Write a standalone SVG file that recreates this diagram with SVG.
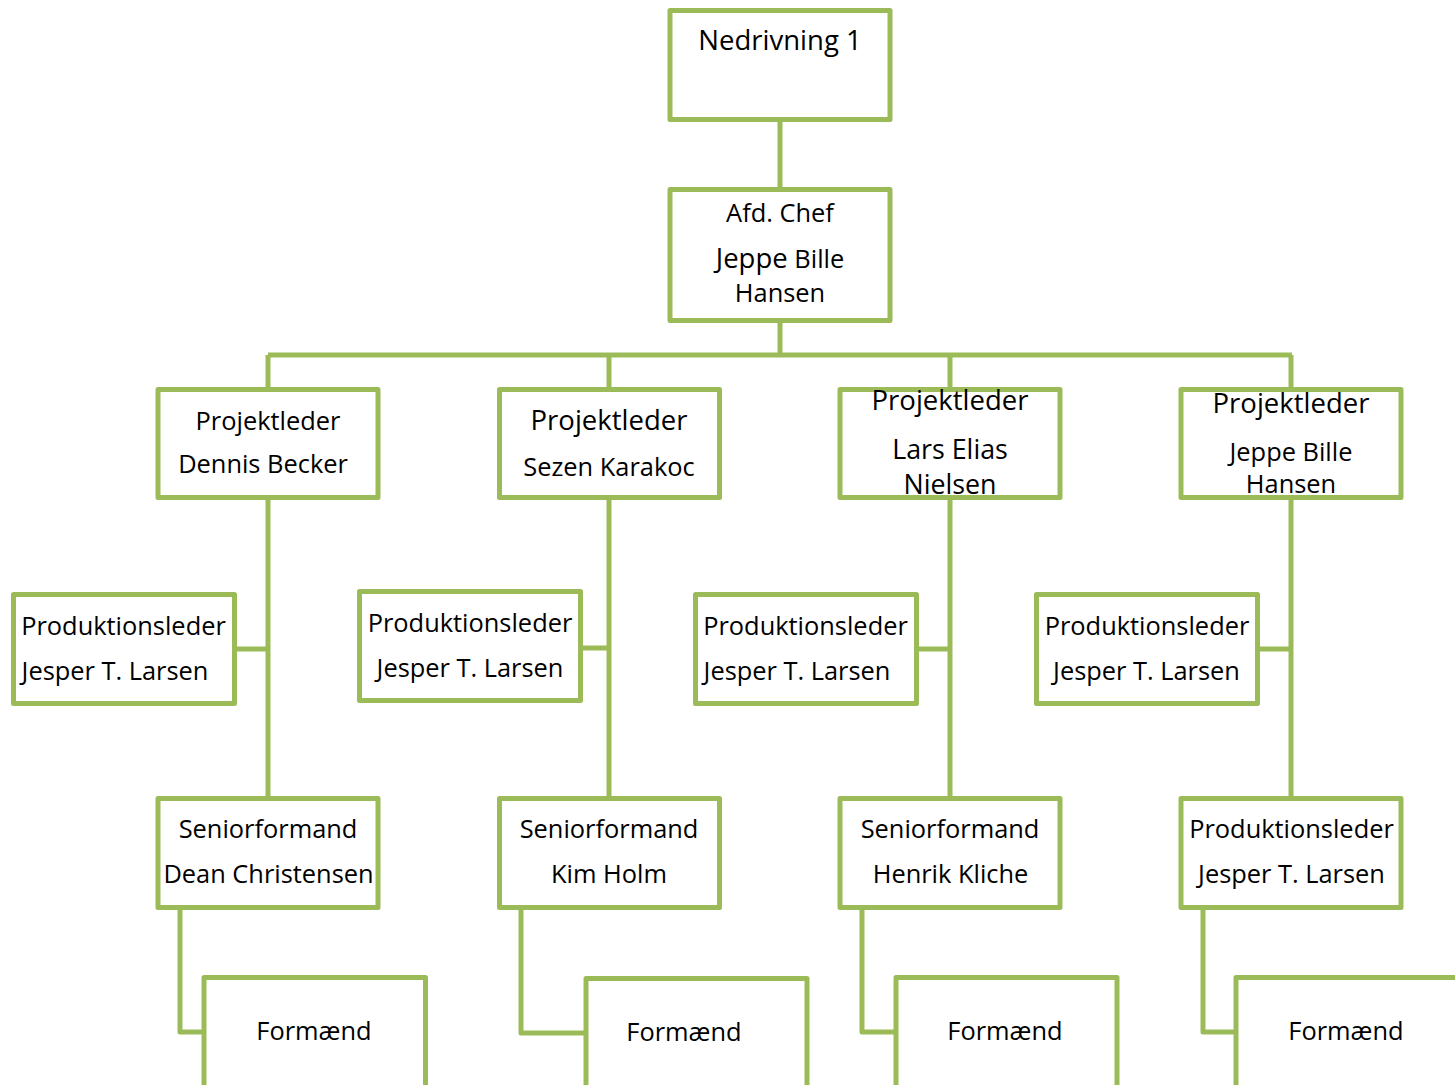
<svg xmlns="http://www.w3.org/2000/svg" width="1455" height="1085" viewBox="0 0 1455 1085">
<style>
.box{fill:#fff;stroke:#9BBB59;stroke-width:5;stroke-linejoin:round}
.con{fill:none;stroke:#9BBB59;stroke-width:5;stroke-linejoin:round}
text{font-family:"Open Sans","Noto Sans","Liberation Sans",sans-serif;font-size:25.4px;fill:#000;text-anchor:middle}
.lg{font-size:27.5px}
.md{font-size:26.8px}
</style>
<rect width="1455" height="1085" fill="#fff"/>
<g id="connectors">
<path class="con" d="M780,121V189M780,321V355M268,355H1292M268,355V389M609,355V389M950,355V389M1291,355V389"/>
<path class="con" d="M268,498V798M609,498V798M950,498V798M1291,498V798"/>
<path class="con" d="M234,649H268M580,648H609M917,649H950M1258,649H1291"/>
<path class="con" d="M180,908V1032H204M521,908V1033H586M862,908V1032H896M1203,908V1032H1236"/>
</g>
<g id="n-top"><rect class="box" x="670" y="10.5" width="220" height="109"/><text class="lg" x="780" y="50">Nedrivning 1</text></g>
<g id="n-afd"><rect class="box" x="670" y="189.5" width="220" height="131"/><text x="780" y="222">Afd. Chef</text><text x="780" y="268"><tspan class="lg">Jeppe</tspan> Bille</text><text x="780" y="302">Hansen</text></g>
<g id="n-pl1"><rect class="box" x="158" y="389.5" width="220" height="108"/><text x="268" y="430">Projektleder</text><text x="263" y="473">Dennis Becker</text></g>
<g id="n-pl2"><rect class="box" x="499.5" y="389.5" width="220" height="108"/><text class="lg" x="609" y="430">Projektleder</text><text x="609" y="476">Sezen Karakoc</text></g>
<g id="n-pl3"><rect class="box" x="840" y="389.5" width="220" height="108"/><text class="lg" x="950" y="410">Projektleder</text><text class="md" x="950" y="459">Lars Elias</text><text class="md" x="950" y="494">Nielsen</text></g>
<g id="n-pl4"><rect class="box" x="1181" y="389.5" width="220" height="108"/><text class="lg" x="1291" y="413">Projektleder</text><text x="1291" y="461">Jeppe Bille</text><text x="1291" y="493">Hansen</text></g>
<g id="n-pr1"><rect class="box" x="13.5" y="594.5" width="221" height="109"/><text x="123.5" y="635">Produktionsleder</text><text x="115" y="680">Jesper T. Larsen</text></g>
<g id="n-pr2"><rect class="box" x="359.5" y="591.5" width="221" height="109"/><text x="470" y="632">Produktionsleder</text><text x="470" y="677">Jesper T. Larsen</text></g>
<g id="n-pr3"><rect class="box" x="695.5" y="594.5" width="221" height="109"/><text x="805.5" y="635">Produktionsleder</text><text x="797" y="680">Jesper T. Larsen</text></g>
<g id="n-pr4"><rect class="box" x="1036.5" y="594.5" width="221" height="109"/><text x="1147" y="635">Produktionsleder</text><text x="1146.5" y="680">Jesper T. Larsen</text></g>
<g id="n-sf1"><rect class="box" x="158" y="798.5" width="220" height="109"/><text x="268" y="838">Seniorformand</text><text x="268.5" y="883">Dean Christensen</text></g>
<g id="n-sf2"><rect class="box" x="499.5" y="798.5" width="220" height="109"/><text x="609" y="838">Seniorformand</text><text x="609" y="883">Kim Holm</text></g>
<g id="n-sf3"><rect class="box" x="840" y="798.5" width="220" height="109"/><text x="950" y="838">Seniorformand</text><text x="950.5" y="883">Henrik Kliche</text></g>
<g id="n-sf4"><rect class="box" x="1181" y="798.5" width="220" height="109"/><text x="1291.5" y="838">Produktionsleder</text><text x="1291.5" y="883">Jesper T. Larsen</text></g>
<g id="n-f1"><rect class="box" x="204" y="977.5" width="221.5" height="200"/><text x="314" y="1040">Formænd</text></g>
<g id="n-f2"><rect class="box" x="586" y="978.5" width="221" height="200"/><text x="684" y="1041">Formænd</text></g>
<g id="n-f3"><rect class="box" x="896" y="977.5" width="221" height="200"/><text x="1005" y="1040">Formænd</text></g>
<g id="n-f4"><rect class="box" x="1236" y="977.5" width="260" height="200"/><text x="1346" y="1040">Formænd</text></g>
</svg>
